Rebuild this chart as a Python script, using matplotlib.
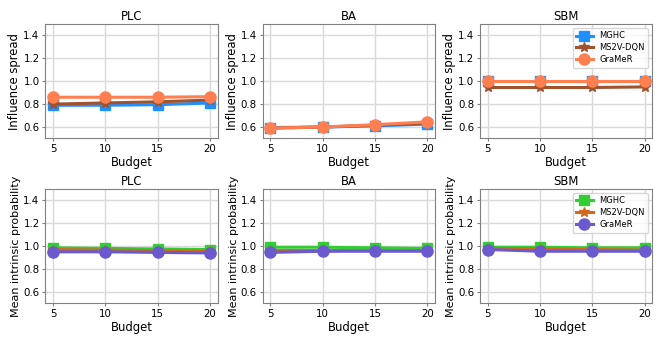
import numpy as np
import matplotlib
matplotlib.use('Agg')
import matplotlib.pyplot as plt

budget = [5, 10, 15, 20]
graphs = ['PLC', 'BA', 'SBM']
methods = ['MGHC', 'MS2V-DQN', 'GraMeR']

# influence spread (top row)
spread_mghc = {'PLC': [0.79, 0.79, 0.795, 0.81],
               'BA': [0.595, 0.60, 0.61, 0.625],
               'SBM': [1.0, 1.0, 1.0, 1.0]}
spread_ms2v = {'PLC': [0.80, 0.81, 0.82, 0.835],
               'BA': [0.59, 0.60, 0.615, 0.635],
               'SBM': [0.945, 0.945, 0.945, 0.95]}
spread_gramer = {'PLC': [0.86, 0.86, 0.86, 0.865],
                 'BA': [0.59, 0.60, 0.62, 0.645],
                 'SBM': [1.0, 1.0, 1.0, 1.0]}

# mean intrinsic probability (bottom row)
prob_mghc = {'PLC': [0.985, 0.98, 0.975, 0.97],
             'BA': [0.99, 0.99, 0.985, 0.98],
             'SBM': [0.99, 0.99, 0.985, 0.985]}
prob_ms2v = {'PLC': [0.97, 0.965, 0.96, 0.955],
             'BA': [0.97, 0.97, 0.97, 0.97],
             'SBM': [0.98, 0.975, 0.97, 0.965]}
prob_gramer = {'PLC': [0.95, 0.95, 0.945, 0.94],
               'BA': [0.945, 0.955, 0.955, 0.955],
               'SBM': [0.97, 0.955, 0.955, 0.955]}

markers = ['s', '*', 'o']
msizes = [6.5, 7.5, 8]
top_colors = ['#1E90FF', '#A0522D', '#FF7F50']
bot_colors = ['#32CD32', '#D2691E', '#6A5ACD']

fig, axes = plt.subplots(2, 3, figsize=(6.65, 3.42), dpi=100)
plt.subplots_adjust(left=0.068, right=0.981, top=0.93, bottom=0.113, wspace=0.26, hspace=0.44)

rows = [([spread_mghc, spread_ms2v, spread_gramer], top_colors, 'Influence spread', 8.4),
        ([prob_mghc, prob_ms2v, prob_gramer], bot_colors, 'Mean intrinsic probability', 8.0)]

for r, (series, colors, ylabel, yfs) in enumerate(rows):
    for c, g in enumerate(graphs):
        ax = axes[r, c]
        for k in range(3):
            ax.plot(budget, series[k][g], marker=markers[k], markersize=msizes[k],
                    linewidth=2.2, color=colors[k], label=methods[k])
        ax.set_ylim(0.5, 1.5)
        ax.set_yticks([0.6, 0.8, 1.0, 1.2, 1.4])
        ax.set_xticks(budget)
        ax.set_title(g, fontsize=8.4, pad=2.5)
        ax.set_xlabel('Budget', fontsize=8.4, labelpad=1.5)
        ax.set_ylabel(ylabel, fontsize=yfs, labelpad=1.5)
        ax.tick_params(labelsize=7.4, length=2.5, color='grey', pad=1.5)
        ax.grid(True, color='#d9d9d9', linewidth=1)
        ax.set_axisbelow(True)
        for s in ax.spines.values():
            s.set_color('grey')
        if c == 2:
            ax.legend(loc='upper right', fontsize=6, handlelength=2, borderpad=0.4,
                      labelspacing=0.35)

plt.savefig('out.png', dpi=100)
